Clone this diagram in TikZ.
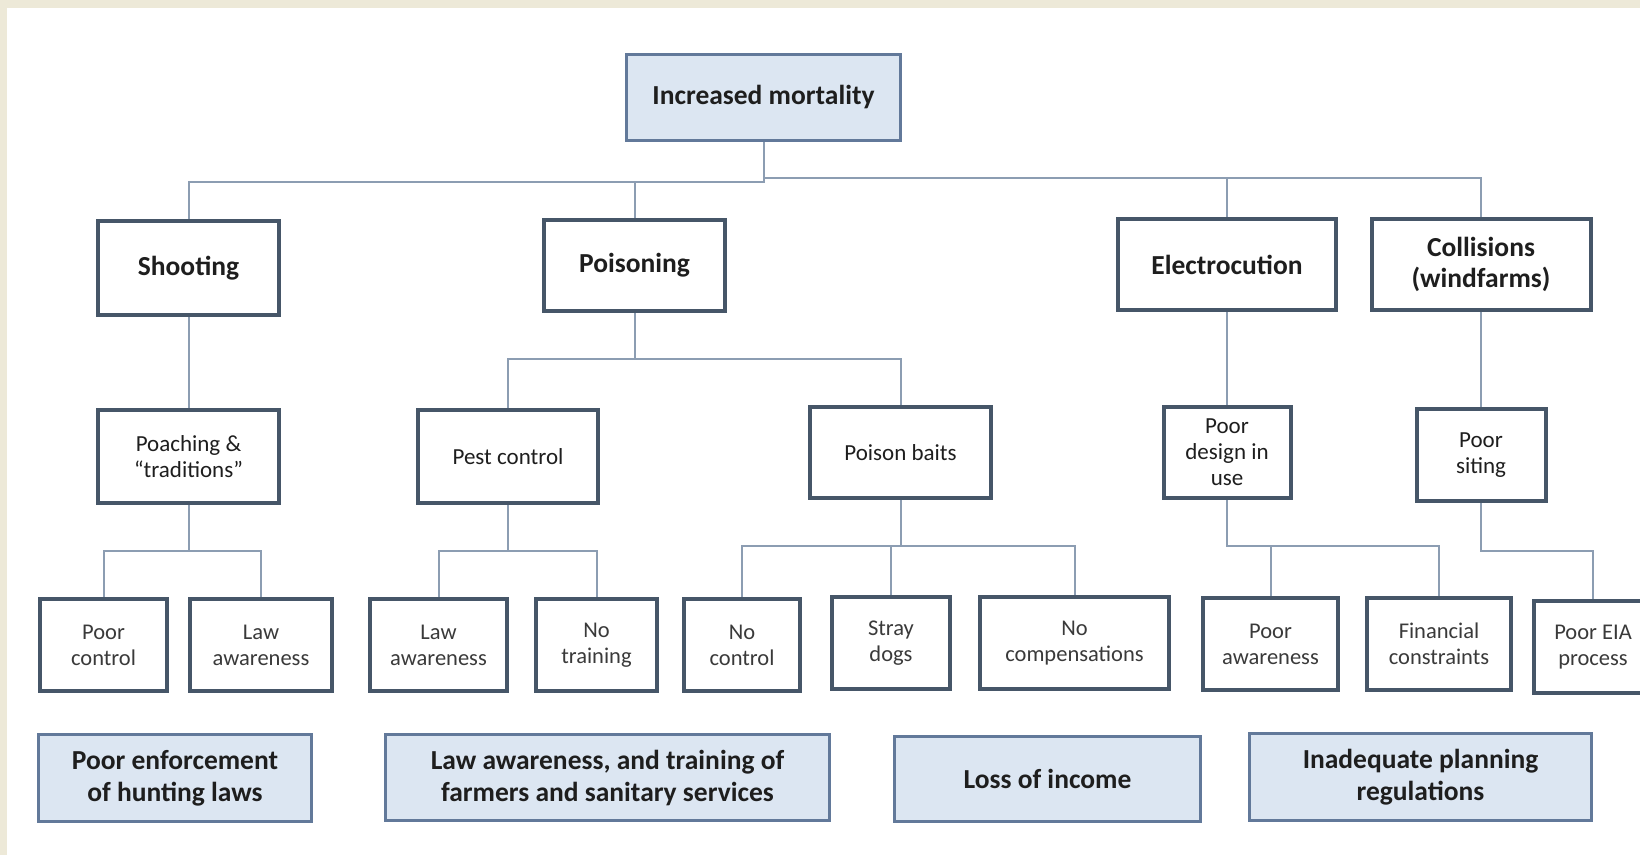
\documentclass[tikz,border=0pt]{standalone}
\usepackage{fontspec}
\setmainfont{Carlito}
\usepackage{xcolor}
\usepackage{tikz}
\usetikzlibrary{positioning,calc}

\definecolor{pagebeige}{HTML}{EDE9D8}
\definecolor{boxline}{HTML}{465668}
\definecolor{textdark}{HTML}{1E1E1E}
\definecolor{textgrey}{HTML}{3A3A3A}
\definecolor{measurefill}{HTML}{DCE6F2}
\definecolor{measureline}{HTML}{62799A}
\definecolor{linkgrey}{HTML}{8C9DB2}

\begin{document}
\begin{tikzpicture}[
    x=1pt,
    y=-1pt,
    cause/.style={
        rectangle,
        draw=boxline,
        line width=4pt,
        fill=white,
        inner sep=0pt,
        align=center,
        text=textdark
    },
    topcause/.style={cause, font=\fontsize{27.5}{31}\selectfont\bfseries},
    midcause/.style={cause, font=\fontsize{23}{26}\selectfont},
    subcause/.style={cause, text=textgrey, font=\fontsize{22.5}{26}\selectfont},
    measure/.style={
        cause,
        draw=measureline,
        line width=3pt,
        fill=measurefill,
        font=\fontsize{27.5}{32}\selectfont\bfseries
    },
    link/.style={draw=linkgrey, line width=2pt}
]

\useasboundingbox (0,0) rectangle (1640,855);
\clip (0,0) rectangle (1640,855);
\fill[pagebeige] (0,0) rectangle (1640,855);
\fill[white] (7,8) rectangle (1640,855);

\node[measure, minimum width=274, minimum height=86] (root) at (763.5,97.5) {Increased mortality};

\node[topcause, minimum width=181, minimum height=94] (shoot) at (188.5,268) {Shooting};
\node[topcause, minimum width=181, minimum height=91] (poison) at (634.5,265.5) {Poisoning};
\node[topcause, minimum width=218, minimum height=91] (electro) at (1227,264.5) {Electrocution};
\node[topcause, minimum width=219, minimum height=91] (collide) at (1481,264.5) {Collisions\\(windfarms)};

\node[midcause, minimum width=181, minimum height=93] (poach) at (188.5,456.5) {Poaching \&\\“traditions”};
\node[midcause, minimum width=180, minimum height=93] (pest) at (508,456.5) {Pest control};
\node[midcause, minimum width=181, minimum height=91] (baits) at (900.5,452.5) {Poison baits};
\node[midcause, minimum width=127, minimum height=91] (design) at (1227,452.5) {Poor\\design in\\use};
\node[midcause, minimum width=129, minimum height=92] (siting) at (1481,455) {Poor\\siting};

\node[subcause, minimum width=127, minimum height=92] (pctrl) at (103.5,645) {Poor\\control};
\node[subcause, minimum width=142, minimum height=92] (lawa) at (261,645) {Law\\awareness};
\node[subcause, minimum width=137, minimum height=92] (lawb) at (438.5,645) {Law\\awareness};
\node[subcause, minimum width=121, minimum height=92] (notrain) at (596.5,645) {No\\training};
\node[subcause, minimum width=116, minimum height=92] (noctrl) at (742,645) {No\\control};
\node[subcause, minimum width=118, minimum height=92] (stray) at (891,643) {Stray\\dogs};
\node[subcause, minimum width=189, minimum height=92] (nocomp) at (1074.5,643) {No\\compensations};
\node[subcause, minimum width=135, minimum height=92] (pawar) at (1270.5,644) {Poor\\awareness};
\node[subcause, minimum width=144, minimum height=92] (financ) at (1439,644) {Financial\\constraints};
\node[subcause, minimum width=118, minimum height=92] (eia) at (1593,647) {Poor EIA\\process};

\node[measure, minimum width=273, minimum height=87] (enforce) at (175,778) {Poor enforcement\\of hunting laws};
\node[measure, minimum width=444, minimum height=86] (lawtrain) at (607.5,777.5) {Law awareness, and training of\\farmers and sanitary services};
\node[measure, minimum width=306, minimum height=85] (income) at (1047.5,779) {Loss of income};
\node[measure, minimum width=342, minimum height=87] (planning) at (1420.5,777) {Inadequate planning\\regulations};

\coordinate (busleft) at (0,182);
\coordinate (busright) at (0,178);
\coordinate (buspoison) at (0,359);
\coordinate (buslow) at (0,551);
\coordinate (busmid) at (0,546);

\draw[link] (root.south) |- (busleft -| shoot.north) -- (shoot.north);
\draw[link] (root.south) |- (busleft -| poison.north) -- (poison.north);
\draw[link] (root.south) |- (busright -| electro.north) -- (electro.north);
\draw[link] (root.south) |- (busright -| collide.north) -- (collide.north);

\draw[link] (shoot) -- (poach);
\draw[link] (electro) -- (design);
\draw[link] (collide) -- (siting);
\draw[link] (poison.south) |- (buspoison -| pest.north) -- (pest.north);
\draw[link] (poison.south) |- (buspoison -| baits.north) -- (baits.north);

\draw[link] (poach.south) |- (buslow -| pctrl.north) -- (pctrl.north);
\draw[link] (poach.south) |- (buslow -| lawa.north) -- (lawa.north);
\draw[link] (pest.south) |- (buslow -| lawb.north) -- (lawb.north);
\draw[link] (pest.south) |- (buslow -| notrain.north) -- (notrain.north);
\draw[link] (baits.south) |- (busmid -| noctrl.north) -- (noctrl.north);
\draw[link] (baits.south) |- (busmid -| stray.north) -- (stray.north);
\draw[link] (baits.south) |- (busmid -| nocomp.north) -- (nocomp.north);
\draw[link] (design.south) |- (busmid -| pawar.north) -- (pawar.north);
\draw[link] (design.south) |- (busmid -| financ.north) -- (financ.north);
\draw[link] (siting.south) |- (buslow -| eia.north) -- (eia.north);

\end{tikzpicture}
\end{document}
